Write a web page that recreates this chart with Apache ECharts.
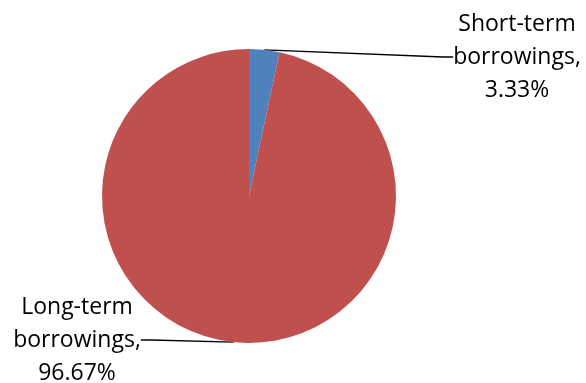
<!DOCTYPE html>
<html>
<head>
<meta charset="utf-8">
<script src="https://cdn.jsdelivr.net/npm/echarts@6/dist/echarts.min.js"></script>
<style>
  html, body { margin: 0; padding: 0; background: #fff; }
  #chart { width: 586px; height: 383px; }
</style>
</head>
<body>
<div id="chart"></div>
<script>
// data
const categories = ['Short-term borrowings', 'Long-term borrowings']
const shares = [3.33, 96.67]
const colors = ['#4F81BD', '#C0504D']

// where each label sits (centre of the text block)
const labelSpots = [
  { x: 517, y: 57 },
  { x: 77, y: 340 }
]

const chart = echarts.init(document.getElementById('chart'))

chart.setOption({
  animation: false,
  series: [{
    type: 'pie',
    center: [249, 196],
    radius: 147,
    startAngle: 90,
    clockwise: true,
    itemStyle: { borderWidth: 0 },
    label: {
      show: true,
      position: 'outside',
      formatter: p => p.name.replace(' ', '\n') + ',\n' + p.value.toFixed(2) + '%',
      fontFamily: 'Open Sans',
      fontSize: 23,
      lineHeight: 33,
      color: '#000',
      align: 'center'
    },
    labelLine: {
      show: true,
      length: 10,
      length2: 10,
      lineStyle: { color: '#000', width: 1.3 }
    },
    labelLayout: p => ({
      x: labelSpots[p.dataIndex].x,
      y: labelSpots[p.dataIndex].y,
      align: 'center',
      verticalAlign: 'middle'
    }),
    data: categories.map((c, i) => ({
      name: c,
      value: shares[i],
      itemStyle: { color: colors[i] }
    }))
  }]
})
</script>
</body>
</html>
